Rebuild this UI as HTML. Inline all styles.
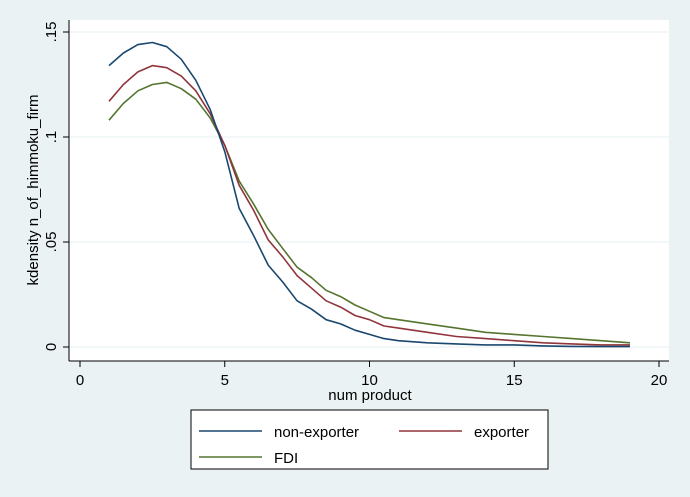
<!DOCTYPE html>
<html><head><meta charset="utf-8"><style>
body{margin:0;background:#eaf2f3;}
svg{display:block;font-family:"Liberation Sans",Arial,sans-serif;}
</style></head><body>
<svg id="chart" width="690" height="497" viewBox="0 0 690 497">
<rect x="0" y="0" width="690" height="497" fill="#eaf2f3"/>
<rect x="69" y="20" width="600" height="341" fill="#ffffff"/>
<g id="grid"></g>
<g id="series"></g>
<line x1="69" y1="20" x2="69" y2="361" stroke="#000" stroke-width="1"/>
<line x1="69" y1="361" x2="669" y2="361" stroke="#000" stroke-width="1"/>
<g id="ticks"></g>
<text x="370" y="400" font-size="15" text-anchor="middle">num product</text>
<text transform="translate(38,190) rotate(-90)" font-size="15" text-anchor="middle">kdensity n_of_himmoku_firm</text>
<g>
<rect x="191" y="410" width="357" height="59" fill="#fff" stroke="#000" stroke-width="1"/>
<g>
<line x1="199" y1="431" x2="262" y2="431" stroke="#1a476f" stroke-width="1.6"/>
<text x="274" y="437" font-size="15">non-exporter</text></g>
<g>
<line x1="399" y1="431" x2="462" y2="431" stroke="#90353b" stroke-width="1.6"/>
<text x="474" y="437" font-size="15">exporter</text></g>
<g>
<line x1="199" y1="457" x2="262" y2="457" stroke="#55752f" stroke-width="1.6"/>
<text x="274" y="463" font-size="15">FDI</text></g>
</g>
</svg>
<script>
const xs=[1,1.5,2,2.5,3,3.5,4,4.5,5,5.5,6,6.5,7,7.5,8,8.5,9,9.5,10,10.5,11,12,13,14,15,16,17,18,19];
const nonExporter=[0.134,0.140,0.144,0.145,0.143,0.137,0.127,0.113,0.093,0.066,0.053,0.039,0.031,0.022,0.018,0.013,0.011,0.008,0.006,0.004,0.003,0.002,0.0015,0.001,0.001,0.0005,0.0003,0.0002,0.0002];
const exporter=[0.117,0.125,0.131,0.134,0.133,0.129,0.122,0.111,0.096,0.077,0.065,0.051,0.043,0.034,0.028,0.022,0.019,0.015,0.013,0.010,0.009,0.007,0.005,0.004,0.003,0.002,0.0015,0.001,0.001];
const fdi=[0.108,0.116,0.122,0.125,0.126,0.123,0.118,0.109,0.096,0.079,0.068,0.056,0.047,0.038,0.033,0.027,0.024,0.020,0.017,0.014,0.013,0.011,0.009,0.007,0.006,0.005,0.004,0.003,0.002];
const xTicks=[0,5,10,15,20];
const xTickLabels=["0","5","10","15","20"];
const yTicks=[0,0.05,0.1,0.15];
const yTickLabels=["0",".05",".1",".15"];
const NS="http://www.w3.org/2000/svg";
function X(v){return 80+v*(659-80)/20;}
function Y(v){return 347-v*(347-32)/0.15;}
const grid=document.getElementById('grid'),ticks=document.getElementById('ticks'),ser=document.getElementById('series');
yTicks.forEach((t,i)=>{
 const g=document.createElementNS(NS,'line');
 g.setAttribute('x1',69);g.setAttribute('x2',669);g.setAttribute('y1',Y(t));g.setAttribute('y2',Y(t));
 g.setAttribute('stroke','#eaf2f3');g.setAttribute('stroke-width','1.2');
 
 
 grid.appendChild(g);
 const tk=document.createElementNS(NS,'line');
 tk.setAttribute('x1',63);tk.setAttribute('x2',69);tk.setAttribute('y1',Y(t));tk.setAttribute('y2',Y(t));tk.setAttribute('stroke','#000');
 
 
 ticks.appendChild(tk);
 const tx=document.createElementNS(NS,'text');
 tx.setAttribute('transform','translate(56,'+Y(t)+') rotate(-90)');tx.setAttribute('text-anchor','middle');tx.setAttribute('font-size','15');
 tx.textContent=yTickLabels[i];
 
 
 ticks.appendChild(tx);
});
xTicks.forEach((t,i)=>{
 const tk=document.createElementNS(NS,'line');
 tk.setAttribute('x1',X(t));tk.setAttribute('x2',X(t));tk.setAttribute('y1',361);tk.setAttribute('y2',367);tk.setAttribute('stroke','#000');
 
 
 ticks.appendChild(tk);
 const tx=document.createElementNS(NS,'text');
 tx.setAttribute('x',X(t));tx.setAttribute('y',385);tx.setAttribute('text-anchor','middle');tx.setAttribute('font-size','15');
 tx.textContent=xTickLabels[i];
 
 
 ticks.appendChild(tx);
});
[[fdi,'#55752f','line-fdi'],[exporter,'#90353b','line-exporter'],[nonExporter,'#1a476f','line-non-exporter']].forEach(([d,c,n])=>{
 const p=document.createElementNS(NS,'polyline');
 p.setAttribute('points',xs.map((x,i)=>X(x).toFixed(1)+','+Y(d[i]).toFixed(1)).join(' '));
 p.setAttribute('fill','none');p.setAttribute('stroke',c);p.setAttribute('stroke-width','1.6');p.setAttribute('stroke-linejoin','round');
 
 
 ser.appendChild(p);
});
</script>
</body></html>
